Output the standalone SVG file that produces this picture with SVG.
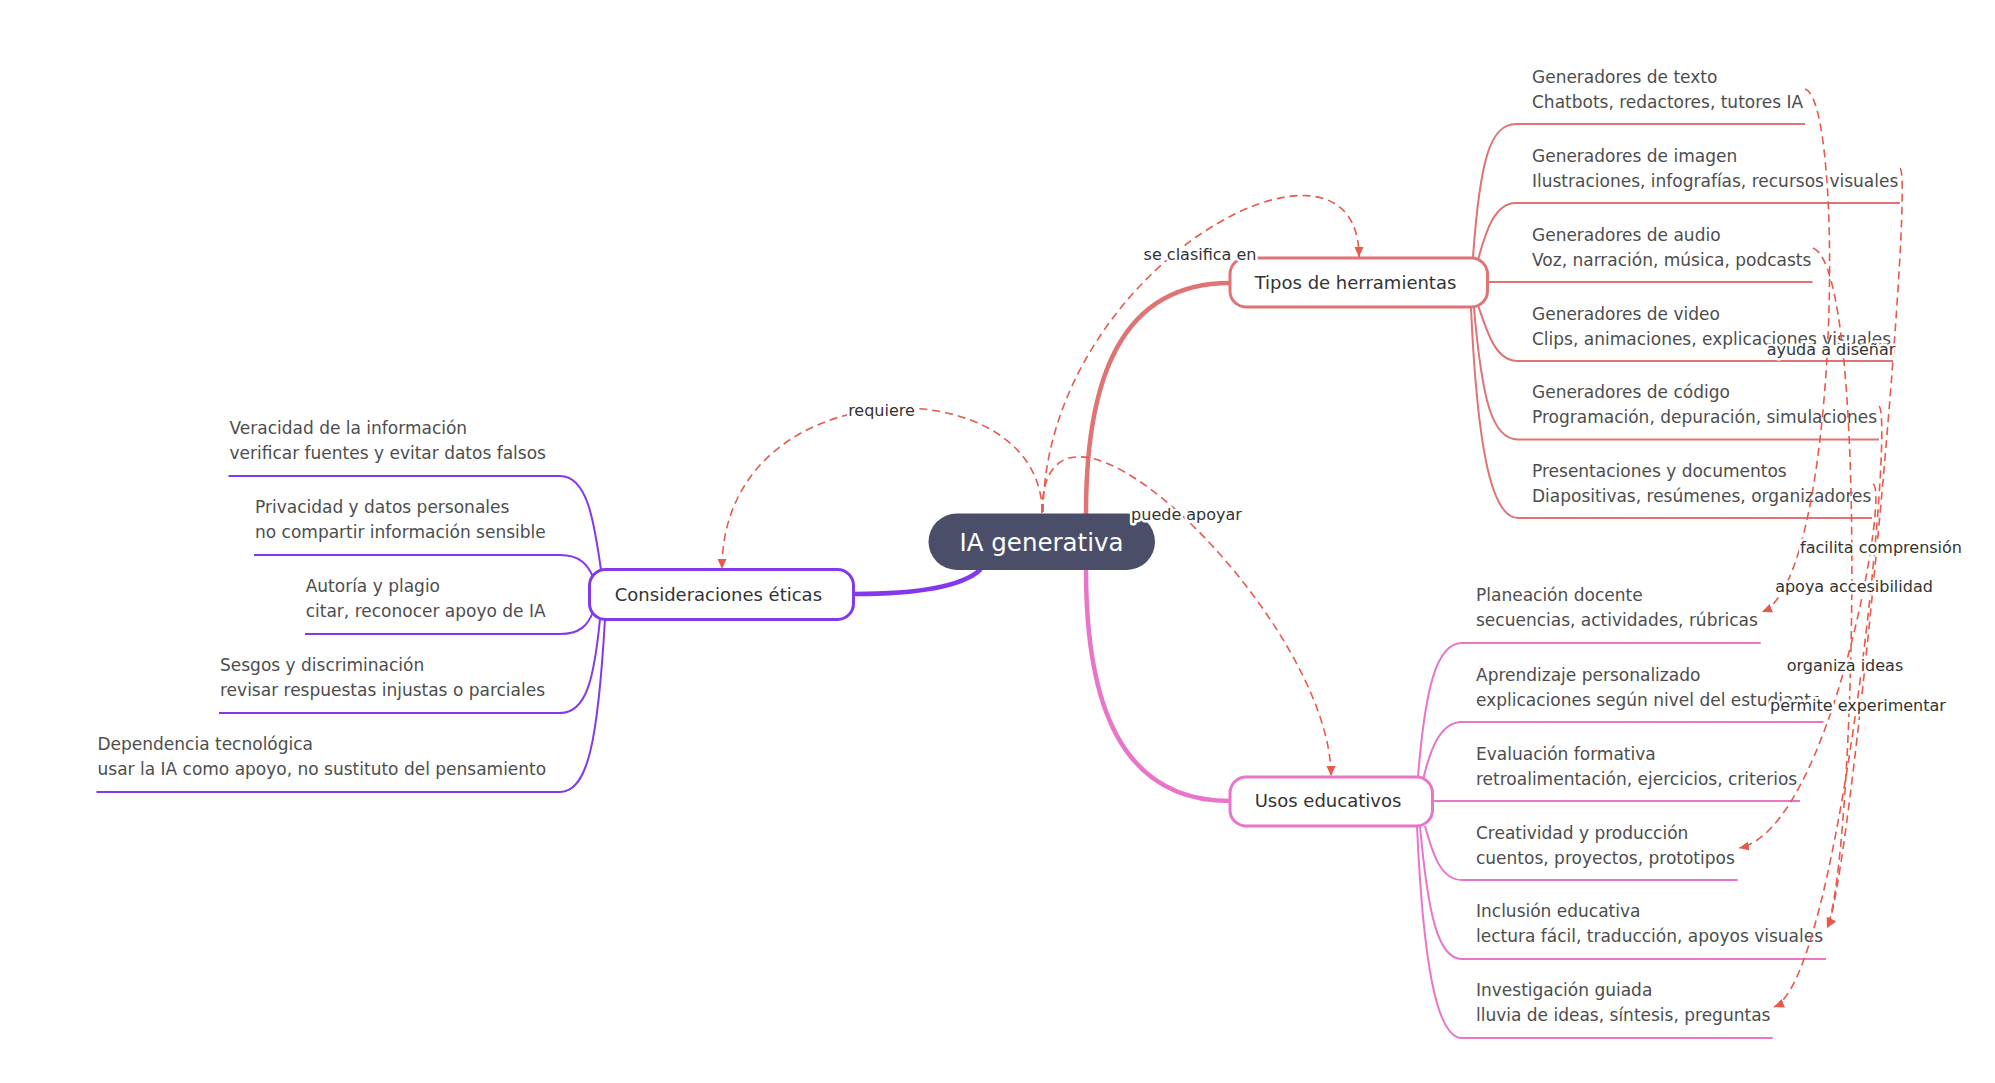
<svg xmlns="http://www.w3.org/2000/svg" width="1995" height="1083" viewBox="0 0 1995 1083">
<style>
.bg{fill:#ffffff}
.br-red{fill:none;stroke:#e07373}
.br-pink{fill:none;stroke:#e875c8}
.br-purple{fill:none;stroke:#8338ec}
.main{stroke-width:4.5;stroke-linecap:round}
.sub{stroke-width:2}
.node{fill:#ffffff;stroke-width:3}
.tmain{font-family:"DejaVu Sans",sans-serif;font-size:18px;fill:#333333}
.tchild{font-family:"DejaVu Sans",sans-serif;font-size:17px;fill:#4d4d4d}
.rel{fill:none;stroke:#e8594a;stroke-width:1.6;stroke-dasharray:8 5;marker-end:url(#arr)}
.lbl{font-family:"DejaVu Sans",sans-serif;font-size:16px;fill:#333333;stroke:#ffffff;stroke-width:5;stroke-linejoin:round;paint-order:stroke;text-anchor:middle}
</style>
<defs>
<marker id="arr" viewBox="0 0 10 10" refX="10" refY="5" markerWidth="10" markerHeight="10" markerUnits="userSpaceOnUse" orient="auto"><path d="M0,0.5 L10,5 L0,9.5 z" fill="#e8594a"/></marker>
</defs>
<rect class="bg" x="0" y="0" width="1995" height="1083"/>

<g id="branches">
<path class="br-red main" d="M1086,513 C1086,380 1120,283 1230,283"/>
<path class="br-pink main" d="M1086,570 C1086,703 1120,801 1230,801"/>
<path class="br-purple main" d="M980,570 C960,588 910,594 854,594"/>
<path class="br-red sub" d="M1473,257 C1480,160 1490,124 1516,124 L1805,124"/>
<path class="br-red sub" d="M1478,260 C1486,230 1495,203 1516,203 L1900,203"/>
<path class="br-red sub" d="M1487,282 L1812.5,282"/>
<path class="br-red sub" d="M1478,305 C1488,335 1496,361 1518,361 L1893,361"/>
<path class="br-red sub" d="M1474,308 C1482,400 1492,439.5 1518,439.5 L1879,439.5"/>
<path class="br-red sub" d="M1471,308 C1477,440 1490,518 1518,518 L1872,518"/>
<path class="br-pink sub" d="M1418,777 C1425,690 1436,643 1462,643 L1760.7,643"/>
<path class="br-pink sub" d="M1423,780 C1430,750 1440,722 1462,722 L1823.5,722"/>
<path class="br-pink sub" d="M1432,801 L1800,801"/>
<path class="br-pink sub" d="M1425,826 C1433,855 1441,880 1462,880 L1737.7,880"/>
<path class="br-pink sub" d="M1420,826 C1428,915 1438,959 1462,959 L1826,959"/>
<path class="br-pink sub" d="M1417,826 C1423,960 1436,1038 1462,1038 L1772.7,1038"/>
<path class="br-purple sub" d="M601,570 C594,520 587,476 560,476 L228.5,476"/>
<path class="br-purple sub" d="M593,577 C588,565 580,555 560,555 L254,555"/>
<path class="br-purple sub" d="M593,612 C588,625 580,634 560,634 L305,634"/>
<path class="br-purple sub" d="M600,619 C594,680 586,713 560,713 L219,713"/>
<path class="br-purple sub" d="M605,619 C598,740 588,792 560,792 L96.5,792"/>
</g>

<g id="n-ia">
<rect x="928.5" y="513.5" width="226.5" height="56.5" rx="28.25" fill="#4a4e69"/>
<text x="1041.5" y="550.5" text-anchor="middle" font-family="DejaVu Sans, sans-serif" font-size="24.5" fill="#ffffff">IA generativa</text>
</g>
<g id="n-tipos">
<rect class="node" x="1230" y="258" width="257.5" height="49" rx="16" stroke="#e07373"/>
<text class="tmain" x="1355.5" y="288.5" text-anchor="middle">Tipos de herramientas</text>
</g>
<g id="n-usos">
<rect class="node" x="1230" y="777" width="202.5" height="49" rx="16" stroke="#e875c8"/>
<text class="tmain" x="1328" y="807.3" text-anchor="middle">Usos educativos</text>
</g>
<g id="n-etica">
<rect class="node" x="589.5" y="569.5" width="264" height="50" rx="16" stroke="#8338ec"/>
<text class="tmain" x="718.4" y="601" text-anchor="middle">Consideraciones éticas</text>
</g>

<g id="n-t1"><text class="tchild" x="1532" y="82.5">Generadores de texto</text><text class="tchild" x="1532" y="107.5">Chatbots, redactores, tutores IA</text></g>
<g id="n-t2"><text class="tchild" x="1532" y="161.5">Generadores de imagen</text><text class="tchild" x="1532" y="186.5">Ilustraciones, infografías, recursos visuales</text></g>
<g id="n-t3"><text class="tchild" x="1532" y="240.5">Generadores de audio</text><text class="tchild" x="1532" y="265.5">Voz, narración, música, podcasts</text></g>
<g id="n-t4"><text class="tchild" x="1532" y="319.5">Generadores de video</text><text class="tchild" x="1532" y="344.5">Clips, animaciones, explicaciones visuales</text></g>
<g id="n-t5"><text class="tchild" x="1532" y="398">Generadores de código</text><text class="tchild" x="1532" y="423">Programación, depuración, simulaciones</text></g>
<g id="n-t6"><text class="tchild" x="1532" y="476.5">Presentaciones y documentos</text><text class="tchild" x="1532" y="501.5">Diapositivas, resúmenes, organizadores</text></g>

<g id="n-u1"><text class="tchild" x="1476" y="601.2">Planeación docente</text><text class="tchild" x="1476" y="626.2">secuencias, actividades, rúbricas</text></g>
<g id="n-u2"><text class="tchild" x="1476" y="680.5">Aprendizaje personalizado</text><text class="tchild" x="1476" y="705.5">explicaciones según nivel del estudiante</text></g>
<g id="n-u3"><text class="tchild" x="1476" y="759.5">Evaluación formativa</text><text class="tchild" x="1476" y="784.5">retroalimentación, ejercicios, criterios</text></g>
<g id="n-u4"><text class="tchild" x="1476" y="838.5">Creatividad y producción</text><text class="tchild" x="1476" y="863.5">cuentos, proyectos, prototipos</text></g>
<g id="n-u5"><text class="tchild" x="1476" y="917.2">Inclusión educativa</text><text class="tchild" x="1476" y="942.2">lectura fácil, traducción, apoyos visuales</text></g>
<g id="n-u6"><text class="tchild" x="1476" y="996.2">Investigación guiada</text><text class="tchild" x="1476" y="1021.2">lluvia de ideas, síntesis, preguntas</text></g>

<g id="n-e1"><text class="tchild" x="229.5" y="434">Veracidad de la información</text><text class="tchild" x="229.5" y="459">verificar fuentes y evitar datos falsos</text></g>
<g id="n-e2"><text class="tchild" x="255" y="513">Privacidad y datos personales</text><text class="tchild" x="255" y="538">no compartir información sensible</text></g>
<g id="n-e3"><text class="tchild" x="305.7" y="592">Autoría y plagio</text><text class="tchild" x="305.7" y="617">citar, reconocer apoyo de IA</text></g>
<g id="n-e4"><text class="tchild" x="220" y="671">Sesgos y discriminación</text><text class="tchild" x="220" y="696">revisar respuestas injustas o parciales</text></g>
<g id="n-e5"><text class="tchild" x="97.5" y="750">Dependencia tecnológica</text><text class="tchild" x="97.5" y="775">usar la IA como apoyo, no sustituto del pensamiento</text></g>

<g id="connectors">
<path class="rel" d="M1042,512 C1042,365 722,365 722,569"/>
<path class="rel" d="M1043,512 C1046,265 1359,100 1359,257"/>
<path class="rel" d="M1042,513 C1042,336 1331,620 1331,776"/>
<path class="rel" d="M1805,89 C1845,100 1840,580 1762,612"/>
<path class="rel" d="M1900,168 C1915,180 1850,890 1827,928"/>
<path class="rel" d="M1813,248 C1870,270 1855,860 1827,928"/>
<path class="rel" d="M1879,406 C1895,420 1840,980 1774,1007"/>
<path class="rel" d="M1873,484 C1890,490 1830,830 1739,848"/>
</g>

<g id="labels">
<text class="lbl" x="1200" y="260">se clasifica en</text>
<text class="lbl" x="881.5" y="415.5">requiere</text>
<text class="lbl" x="1186.5" y="520">puede apoyar</text>
<text class="lbl" x="1831" y="355">ayuda a diseñar</text>
<text class="lbl" x="1881" y="553">facilita comprensión</text>
<text class="lbl" x="1854" y="591.5">apoya accesibilidad</text>
<text class="lbl" x="1845" y="670.5">organiza ideas</text>
<text class="lbl" x="1858" y="710.5">permite experimentar</text>
</g>
</svg>
